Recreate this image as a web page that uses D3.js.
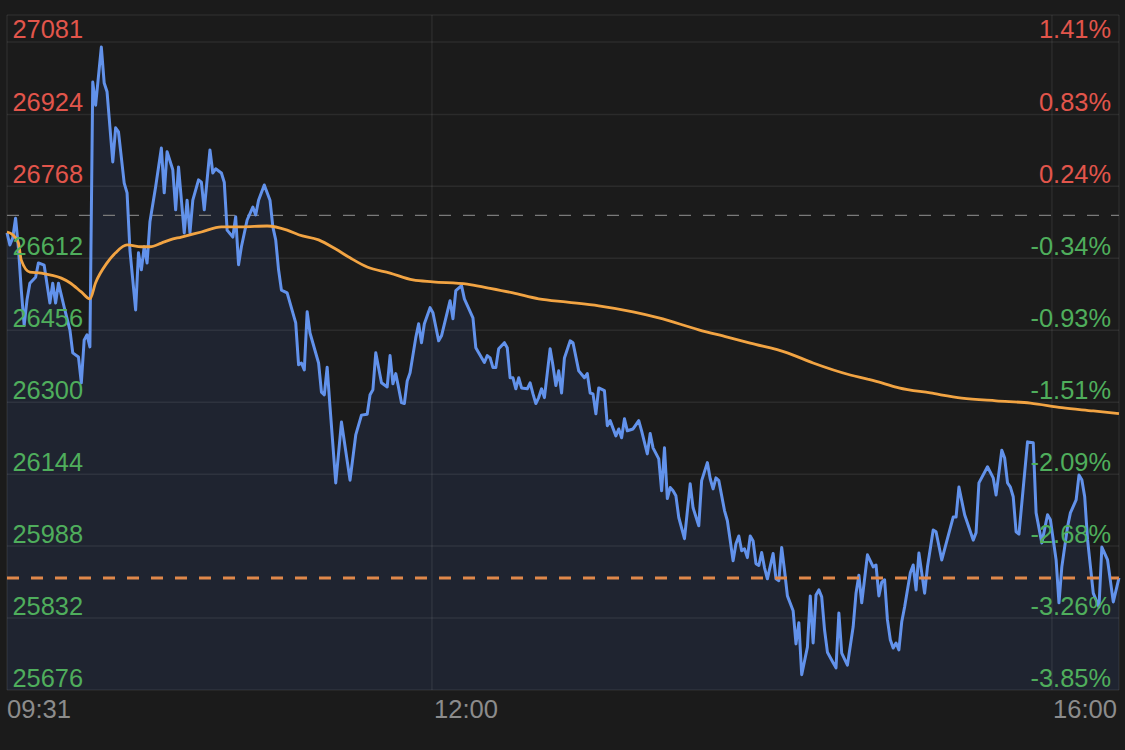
<!DOCTYPE html>
<html><head><meta charset="utf-8">
<script src="https://cdn.jsdelivr.net/npm/d3@7"></script>
<style>html,body{margin:0;padding:0;background:#1b1b1b;} svg{display:block}</style>
</head><body><svg id="c" width="1125" height="750"></svg>
<script>
// ---- data ----
const priceTicks = [27081,26924,26768,26612,26456,26300,26144,25988,25832,25676];
const pctTicks = ["1.41%","0.83%","0.24%","-0.34%","-0.93%","-1.51%","-2.09%","-2.68%","-3.26%","-3.85%"];
const timeTicks = [1,150,390];           // minutes after 09:30
const timeLabels = ["09:31","12:00","16:00"];
const prevClose = 26705;
const lastPrice = 25919;
const priceTop = 27139.5;

const minutes = [1,2,3,4,5,6,7,8,9,11,12,14,16,17,18,19,21,23,24,26,27,28,29,30,31,32,34,35,36,38,39,40,42,43,44,46,47,48,49,50,51,53,55,56,57,59,60,61,63,64,65,66,68,69,70,72,73,74,76,77,78,80,81,82,83,85,87,88,89,91,93,94,95,96,97,99,102,103,104,105,106,107,110,111,112,113,114,116,117,118,121,123,125,127,128,129,130,132,134,135,136,137,138,139,140,141,142,144,145,146,147,149,150,152,153,156,157,158,160,161,164,165,166,168,169,170,171,172,173,175,176,177,178,179,180,181,183,184,185,186,187,188,189,191,192,193,194,195,196,198,199,201,203,204,205,206,207,208,210,211,212,214,215,216,217,218,220,222,223,225,226,227,229,230,231,232,233,234,235,236,238,240,241,243,244,246,247,248,249,250,252,253,254,255,256,257,258,259,260,261,262,263,264,265,266,267,269,270,271,272,273,274,276,277,278,279,281,282,283,284,285,286,287,288,290,291,292,293,295,297,298,299,300,302,304,305,306,307,308,309,310,311,312,313,314,315,317,318,319,320,321,322,323,325,326,328,332,333,334,336,339,340,341,344,346,347,349,350,351,352,353,354,355,358,360,361,363,365,366,368,369,370,372,373,375,376,377,378,379,381,383,384,386,388,390];
const prices = [26667,26641,26656,26699,26634,26543,26467,26522,26558,26571,26602,26597,26515,26558,26515,26558,26506,26457,26407,26398,26342,26435,26446,26420,26994,26944,27070,26992,26973,26821,26895,26886,26775,26754,26630,26500,26624,26587,26637,26602,26691,26767,26851,26754,26843,26804,26717,26810,26667,26738,26667,26738,26782,26777,26717,26847,26797,26806,26797,26777,26673,26658,26702,26598,26637,26695,26723,26706,26738,26771,26738,26680,26652,26587,26543,26537,26472,26381,26385,26370,26496,26450,26385,26322,26316,26376,26290,26125,26190,26257,26131,26229,26272,26274,26316,26327,26407,26342,26333,26401,26340,26362,26331,26299,26297,26346,26364,26440,26470,26429,26470,26505,26494,26433,26444,26520,26481,26542,26553,26524,26483,26418,26407,26386,26401,26396,26375,26375,26416,26429,26418,26353,26353,26329,26353,26331,26329,26342,26318,26297,26310,26329,26310,26416,26379,26336,26368,26320,26396,26433,26429,26368,26353,26362,26320,26318,26275,26331,26325,26249,26260,26227,26242,26223,26264,26238,26242,26260,26238,26188,26232,26201,26177,26108,26201,26091,26115,26108,26097,26050,26004,26123,26071,26032,26130,26169,26134,26112,26136,26130,26065,26043,26000,25956,25993,26010,25978,25982,25963,26010,25999,25950,25946,25974,25941,25917,25972,25917,25913,25985,25935,25880,25848,25776,25822,25709,25769,25880,25778,25882,25893,25878,25806,25758,25735,25724,25843,25756,25730,25813,25886,25925,25865,25969,25943,25947,25880,25910,25915,25828,25785,25767,25778,25763,25824,25856,25930,25947,25893,25973,25930,25886,25943,26023,26019,25958,26051,26051,26116,26056,26001,26017,26125,26160,26136,26099,26196,26179,26125,26116,26095,26019,26014,26214,26212,26060,25995,26056,26045,25958,25865,25943,26030,26060,26088,26142,26132,26095,26002,25886,25856,25986,25958,25867,25919];

const avgMinutes = [1,3,5,6,9,13,16,20,23,27,30,32,36,39,43,48,51,55,58,62,69,76,83,92,99,103,110,116,121,127,135,143,150,162,169,178,187,197,208,220,229,243,253,261,274,283,296,302,307,313,324,335,347,359,370,381,390];
const avgPrices = [26669,26663,26645,26608,26582,26580,26576,26569,26559,26539,26524,26559,26602,26624,26641,26637,26637,26645,26652,26658,26669,26680,26680,26682,26673,26663,26652,26632,26613,26593,26580,26565,26561,26556,26548,26537,26524,26517,26509,26496,26483,26457,26441,26428,26407,26385,26359,26350,26342,26331,26320,26309,26303,26298,26288,26281,26275];

// ---- chart ----
const svg = d3.select("#c");
const L = 7, R = 1119, T = 15, B = 690;
const x = d3.scaleLinear().domain([1, 390]).range([L, R]);
const y = d3.scaleLinear().domain([priceTicks[priceTicks.length-1], priceTop]).range([B, T]);

svg.append("rect").attr("width",1125).attr("height",750).attr("fill","#1b1b1b");

const pts = minutes.map((m,i)=>({m, p:prices[i]}));
const avg = avgMinutes.map((m,i)=>({m, p:avgPrices[i]}));

// area under price line
svg.append("path").datum(pts)
  .attr("fill","#1f2430")
  .attr("d", d3.area().x(d=>x(d.m)).y0(B).y1(d=>y(d.p)));

// grid
const grid = svg.append("g").attr("stroke","rgba(255,255,255,0.07)").attr("stroke-width",1.5);
grid.selectAll("line.h").data([priceTop, ...priceTicks]).join("line")
  .attr("x1",L).attr("x2",R).attr("y1",d=>y(d)).attr("y2",d=>y(d));
grid.selectAll("line.v").data([L, x(timeTicks[1]) - 1, R]).join("line")
  .attr("x1",d=>d).attr("x2",d=>d).attr("y1",T).attr("y2",B);

// previous close line
svg.append("line").attr("x1",L).attr("x2",R).attr("y1",y(prevClose)).attr("y2",y(prevClose))
  .attr("stroke","#7a7a7a").attr("stroke-width",1.2).attr("stroke-dasharray","12,12");

// price line
svg.append("path").datum(pts)
  .attr("fill","none").attr("stroke","#6292eb").attr("stroke-width",3).attr("stroke-linejoin","round")
  .attr("d", d3.line().x(d=>x(d.m)).y(d=>y(d.p)));

// average line
svg.append("path").datum(avg)
  .attr("fill","none").attr("stroke","#f2a443").attr("stroke-width",2.8)
  .attr("d", d3.line().curve(d3.curveMonotoneX).x(d=>x(d.m)).y(d=>y(d.p)));

// last price line
svg.append("line").attr("x1",L).attr("x2",R).attr("y1",y(lastPrice)).attr("y2",y(lastPrice))
  .attr("stroke","#e0884a").attr("stroke-width",3).attr("stroke-dasharray","12,12");

// labels
const font = "'Liberation Sans', Arial, Helvetica, sans-serif";
const red = "#e2554b", green = "#4fae5c";
svg.append("g").selectAll("text").data(priceTicks).join("text")
  .attr("x",12.5).attr("y",d=>y(d)-3.5)
  .attr("font-family",font).attr("font-size",25.4)
  .attr("fill",d=>d>=prevClose?red:green).text(d=>d);
svg.append("g").selectAll("text").data(pctTicks).join("text")
  .attr("x",1111).attr("y",(d,i)=>y(priceTicks[i])-3.5).attr("text-anchor","end")
  .attr("font-family",font).attr("font-size",25.4)
  .attr("fill",(d,i)=>priceTicks[i]>=prevClose?red:green).text(d=>d);

const tl = svg.append("g").selectAll("text").data(timeLabels).join("text")
  .attr("x",(d,i)=> i===0 ? L : i===1 ? x(timeTicks[1]) + 1 : 1117)
  .attr("y",718)
  .attr("text-anchor",(d,i)=> i===2 ? "end" : "start")
  .attr("font-family",font).attr("font-size",25.6).attr("fill","#8c8c8c").text(d=>d);

// faint gridline at the left edge of the closing label
const lastLabel = tl.nodes()[2];
const lx = 1117 - lastLabel.getComputedTextLength() - 1;
grid.append("line").attr("x1",lx).attr("x2",lx).attr("y1",T).attr("y2",B);
</script>
</body></html>
